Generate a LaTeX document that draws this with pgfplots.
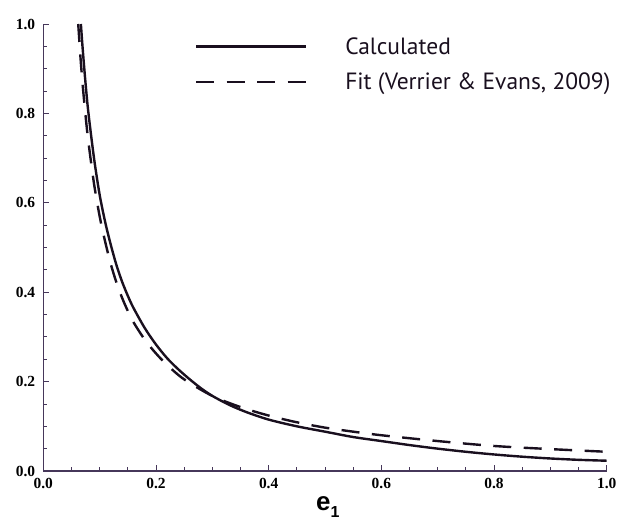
\documentclass[border=0pt]{standalone}
\usepackage{pgfplots}
\pgfplotsset{compat=1.18}
\usepackage{fontspec}
\setmainfont{Liberation Serif}
\newfontfamily\legfont{PT Sans}
\newfontfamily\labfont{Liberation Sans}
\definecolor{axcol}{RGB}{70,55,90}
\definecolor{curv}{RGB}{25,15,30}

\pgfplotstableread{
x y
0.0667 1.000
0.070 0.943
0.075 0.867
0.080 0.802
0.090 0.700
0.100 0.618
0.110 0.556
0.120 0.505
0.130 0.460
0.140 0.423
0.150 0.392
0.160 0.365
0.180 0.320
0.200 0.283
0.220 0.252
0.240 0.227
0.260 0.205
0.280 0.185
0.300 0.168
0.330 0.148
0.360 0.132
0.400 0.115
0.450 0.100
0.500 0.088
0.550 0.076
0.600 0.067
0.650 0.058
0.700 0.050
0.750 0.043
0.800 0.037
0.850 0.032
0.900 0.028
0.950 0.025
1.000 0.023
}\calc

\pgfplotstableread{
x y
0.062 1.000
0.066 0.925
0.070 0.862
0.075 0.795
0.080 0.737
0.090 0.643
0.100 0.570
0.110 0.512
0.120 0.462
0.130 0.421
0.140 0.387
0.150 0.358
0.160 0.333
0.180 0.294
0.200 0.263
0.220 0.237
0.250 0.205
0.300 0.168
0.350 0.143
0.400 0.124
0.450 0.109
0.500 0.097
0.550 0.088
0.600 0.080
0.700 0.067
0.800 0.056
0.900 0.049
1.000 0.043
}\fit

\begin{document}
\begin{tikzpicture}
\path[use as bounding box] (-43.3bp,-50bp) rectangle (574.7bp,471bp);
\begin{axis}[
  scale only axis, width=563.4bp, height=447bp,
  xmin=0, xmax=1, ymin=0, ymax=1,
  axis x line*=bottom, axis y line*=left,
  axis line style={color=axcol, line width=1.1bp},
  tick style={color=axcol, line width=0.9bp},
  tick align=inside,
  xtick={0,0.2,0.4,0.6,0.8,1.0}, ytick={0,0.2,0.4,0.6,0.8,1.0},
  minor tick num=3,
  major tick length=6bp, minor tick length=4bp,
  ticklabel style={font=\fontsize{15.5}{15.5}\selectfont\bfseries, inner sep=0pt},
  xticklabel style={yshift=-7bp},
  yticklabel style={xshift=-8bp},
  xlabel={\labfont\bfseries\fontsize{26}{26}\selectfont e\raisebox{-0.3em}{\fontsize{16}{16}\selectfont 1}},
  xlabel style={at={(axis description cs:0.505,0)}, anchor=base, yshift=-39bp, inner sep=0pt},
  legend cell align=left,
  legend image code/.code={\draw[#1] (0bp,0bp) -- (110bp,0bp);},
  legend style={draw=none, fill=none, inner sep=0pt, outer sep=0pt,
     at={(axis description cs:0.269,0.97)}, anchor=north west,
     font=\legfont\fontsize{23.6}{23.6}\selectfont, row sep=17.5bp,
     nodes={inner sep=0pt, text=curv},
     /tikz/every odd column/.append style={column sep=38bp}},
  /pgf/number format/fixed, /pgf/number format/fixed zerofill, /pgf/number format/precision=1,
  /pgf/number format/assume math mode=true,
]
\addplot[curv, line width=2.4bp, smooth] table[x=x,y=y] {\calc};
\addlegendentry{Calculated}
\addplot[curv, line width=2.4bp, smooth, dash pattern=on 18bp off 12.5bp] table[x=x,y=y] {\fit};
\addlegendentry{Fit~(Verrier~\&~Evans,~2009)}
\end{axis}
\end{tikzpicture}
\end{document}
